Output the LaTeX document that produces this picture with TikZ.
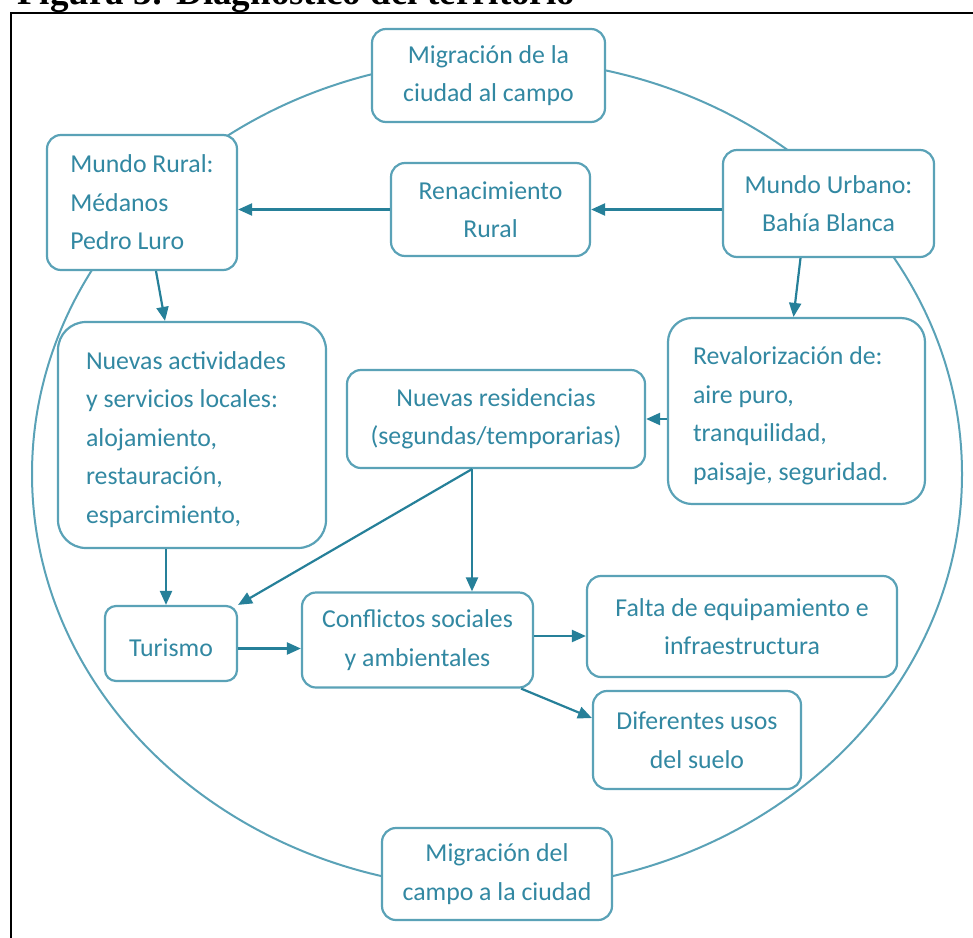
\documentclass[tikz,border=0pt]{standalone}
\usepackage{fontspec}
\setmainfont{Carlito}
\newfontfamily\titlefont{Liberation Serif}
\usetikzlibrary{positioning,arrows.meta}
\definecolor{boxline}{RGB}{90,162,183}
\definecolor{txtcol}{RGB}{50,136,162}
\definecolor{arrcol}{RGB}{38,128,153}

\begin{document}
\begin{tikzpicture}[x=1pt,y=-1pt]
        \tikzstyle{caja}=[draw=boxline, line width=2.2pt, fill=white, rounded corners=14pt, inner sep=0pt, align=center, text=txtcol, font=\fontsize{25.8}{38.5}\selectfont, execute at begin node={\rule{0pt}{27pt}}]
        \tikzstyle{flecha}=[draw=arrcol, line width=2.2pt, -{Triangle[length=14pt,width=12pt]}]

        \useasboundingbox (0,0) rectangle (973,937);
        \clip (0,0) rectangle (973,937);
        \node[anchor=base west, inner sep=0pt, font=\titlefont\bfseries\fontsize{37}{40}\selectfont] (tit) at (17,4) {Figura 3: Diagn\'ostico del territorio};
        \draw[line width=2.5pt] (11,960) -- (11,13) -- (990,13);
        \draw[boxline, line width=2pt] (497,474) ellipse [x radius=465, y radius=415];

        \node[caja, minimum width=233, minimum height=93]  (mig1) at (488.5,75.5) {Migraci\'on de la\\ciudad al campo};
        \node[caja, minimum width=190, minimum height=135, align=left] (rur) at (142,202.5) {Mundo Rural:\\M\'edanos\\Pedro Luro};
        \node[caja, minimum width=199, minimum height=93]  (ren) at (490.5,209.5) {Renacimiento\\Rural};
        \node[caja, minimum width=211, minimum height=107] (urb) at (828.5,203.5) {Mundo Urbano:\\Bah\'ia Blanca};
        \node[caja, minimum width=268, minimum height=226, rounded corners=28pt, text width=212, align=flush left] (act) at (192,435) {Nuevas actividades\\y servicios locales:\\alojamiento,\\restauraci\'on,\\esparcimiento,};
        \node[caja, minimum width=298, minimum height=98]  (res) at (496,419) {Nuevas residencias\\(segundas/temporarias)};
        \node[caja, minimum width=257, minimum height=186, rounded corners=24pt, text width=207, align=flush left] (rev) at (796.5,411) {Revalorizaci\'on de:\\aire puro,\\tranquilidad,\\paisaje, seguridad.};
        \node[caja, minimum width=132, minimum height=75, rounded corners=11pt] (tur) at (171,643.5) {Turismo};
        \node[caja, minimum width=231, minimum height=95]  (con) at (417.5,640) {Conflictos sociales\\y ambientales};
        \node[caja, minimum width=310, minimum height=101] (fal) at (742,626.5) {Falta de equipamiento e\\infraestructura};
        \node[caja, minimum width=208, minimum height=98]  (uso) at (697,740) {Diferentes usos\\del suelo};
        \node[caja, minimum width=230, minimum height=92]  (mig2) at (497,874) {Migraci\'on del\\campo a la ciudad};

        \draw[flecha] (ren.west) -- (ren.west -| rur.east);
        \draw[flecha] (urb.west |- ren.east) -- (ren.east);
        \draw[flecha] ([xshift=-28pt]urb.south) -- ([xshift=-3pt]rev.north);
        \draw[flecha] ([xshift=14pt]rur.south) -- ([xshift=-27pt]act.north);
        \draw[flecha] (rev.west |- res.east) -- (res.east);
        \draw[flecha] ([xshift=-26pt]act.south) -- ([xshift=-26pt]act.south |- tur.north);
        \coordinate (rs) at ([xshift=-24pt]res.south);
        \draw[flecha] (rs) -- (tur.north east);
        \draw[flecha] (rs) -- (rs |- con.north);
        \draw[flecha] ([yshift=-5pt]tur.east) -- ([yshift=-5pt]tur.east -| con.west);
        \draw[flecha] ([yshift=4pt]con.east) -- ([yshift=4pt]con.east -| fal.west);
        \draw[flecha] ([xshift=-13pt]con.south east) -- ([yshift=22pt]uso.west);
    \end{tikzpicture}
\end{document}
